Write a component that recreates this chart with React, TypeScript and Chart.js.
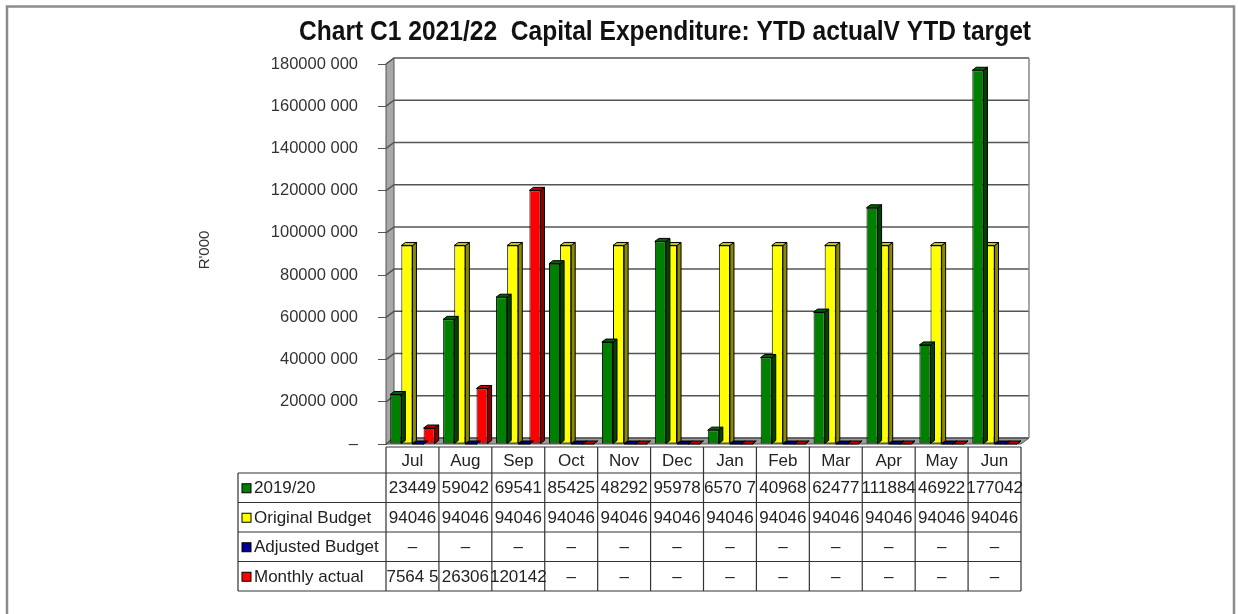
import React, { useEffect, useRef } from "react";
import { Chart, registerables } from "chart.js";

Chart.register(...registerables);

const titleText = "Chart C1 2021/22  Capital Expenditure: YTD actualV YTD target";
const yAxisTitle = "R'000";
const months = ["Jul", "Aug", "Sep", "Oct", "Nov", "Dec", "Jan", "Feb", "Mar", "Apr", "May", "Jun"];
const seriesNames = ["2019/20", "Original Budget", "Adjusted Budget", "Monthly actual"];
const ytd201920 = [23449000, 59042000, 69541000, 85425000, 48292000, 95978000, 6570700, 40968000, 62477000, 111884000, 46922000, 177042000];
const originalBudget = [94046000, 94046000, 94046000, 94046000, 94046000, 94046000, 94046000, 94046000, 94046000, 94046000, 94046000, 94046000];
const adjustedBudget = [0, 0, 0, 0, 0, 0, 0, 0, 0, 0, 0, 0];
const monthlyActual = [7564500, 26306000, 120142000, 0, 0, 0, 0, 0, 0, 0, 0, 0];
const yTickValues = [0, 20000000, 40000000, 60000000, 80000000, 100000000, 120000000, 140000000, 160000000, 180000000];

const frontColors = ["#008000", "#ffff00", "#000090", "#ff0000"];
const sideColors = ["#004400", "#8a8a00", "#000050", "#880000"];
const topColors = ["#006000", "#c8c800", "#000070", "#c00000"];

const WALL_DX = 8;
const WALL_DY = 6;
const BAR_DX = 4;
const BAR_DY = 3;

const fmtTick = (v: number) => (v === 0 ? "–" : `${v / 1000000}000 000`);

const fmtCell = (v: number) => {
  if (!v) return "–";
  const k = v / 1000;
  return Number.isInteger(k) ? String(k) : String(k).replace(".", " ");
};

const customPlugin = {
  id: "custom3d",
  beforeDraw(chart: any) {
    const ctx = chart.ctx;
    ctx.save();
    ctx.fillStyle = "#ffffff";
    ctx.fillRect(0, 0, chart.width, chart.height);
    ctx.strokeStyle = "#8c8c8c";
    ctx.lineWidth = 2.5;
    ctx.beginPath();
    ctx.moveTo(7, 640);
    ctx.lineTo(7, 6.5);
    ctx.lineTo(1234, 6.5);
    ctx.lineTo(1234, 640);
    ctx.stroke();

    ctx.save();
    ctx.fillStyle = "#111";
    ctx.font = "bold 27px 'Liberation Sans'";
    ctx.textAlign = "center";
    ctx.textBaseline = "middle";
    const w = ctx.measureText(titleText).width;
    ctx.translate(665, 33);
    ctx.scale(732 / w, 1);
    ctx.fillText(titleText, 0, 0);
    ctx.restore();

    ctx.translate(205, 250);
    ctx.rotate(-Math.PI / 2);
    ctx.font = "15px 'Liberation Sans'";
    ctx.fillStyle = "#333";
    ctx.textAlign = "center";
    ctx.textBaseline = "middle";
    ctx.fillText(yAxisTitle, 0, 0);
    ctx.restore();
  },
  beforeDatasetsDraw(chart: any) {
    const ctx = chart.ctx;
    const { left: L, right: R, top: T, bottom: B } = chart.chartArea;
    const ys = chart.scales.y;
    ctx.save();
    ctx.fillStyle = "#a8a8a8";
    ctx.strokeStyle = "#555";
    ctx.lineWidth = 1;
    ctx.beginPath();
    ctx.moveTo(L, T);
    ctx.lineTo(L + WALL_DX, T - WALL_DY);
    ctx.lineTo(L + WALL_DX, B - WALL_DY);
    ctx.lineTo(L, B);
    ctx.closePath();
    ctx.fill();
    ctx.stroke();
    ctx.fillStyle = "#9a9a9a";
    ctx.beginPath();
    ctx.moveTo(L, B);
    ctx.lineTo(L + WALL_DX, B - WALL_DY);
    ctx.lineTo(R + WALL_DX, B - WALL_DY);
    ctx.lineTo(R, B);
    ctx.closePath();
    ctx.fill();
    ctx.stroke();
    ctx.strokeStyle = "#555";
    ctx.lineWidth = 1.5;
    yTickValues.forEach((v) => {
      const y = ys.getPixelForValue(v);
      ctx.beginPath();
      ctx.moveTo(L, y);
      ctx.lineTo(L + WALL_DX, y - WALL_DY);
      ctx.lineTo(R + WALL_DX, y - WALL_DY);
      ctx.stroke();
    });
    ctx.strokeStyle = "#888";
    ctx.beginPath();
    ctx.moveTo(R + WALL_DX, T - WALL_DY);
    ctx.lineTo(R + WALL_DX, B - WALL_DY);
    ctx.stroke();
    ctx.restore();
  },
  afterDatasetDraw(chart: any, args: any) {
    const ctx = chart.ctx;
    const idx = args.index;
    const meta = args.meta;
    ctx.save();
    ctx.strokeStyle = "#000";
    ctx.lineWidth = 1;
    meta.data.forEach((el: any) => {
      const { x, y, base, width } = el.getProps(["x", "y", "base", "width"], true);
      const l = x - width / 2;
      const r = x + width / 2;
      ctx.fillStyle = sideColors[idx];
      ctx.beginPath();
      ctx.moveTo(r, y);
      ctx.lineTo(r + BAR_DX, y - BAR_DY);
      ctx.lineTo(r + BAR_DX, base - BAR_DY);
      ctx.lineTo(r, base);
      ctx.closePath();
      ctx.fill();
      ctx.stroke();
      ctx.fillStyle = topColors[idx];
      ctx.beginPath();
      ctx.moveTo(l, y);
      ctx.lineTo(l + BAR_DX, y - BAR_DY);
      ctx.lineTo(r + BAR_DX, y - BAR_DY);
      ctx.lineTo(r, y);
      ctx.closePath();
      ctx.fill();
      ctx.stroke();
    });
    ctx.restore();
  },
  afterDraw(chart: any) {
    const ctx = chart.ctx;
    const { left: L, right: R } = chart.chartArea;
    const xs = chart.scales.x;
    const n = months.length;
    const cw = (R - L) / n;
    const edges = Array.from({ length: n + 1 }, (_, i) => L + i * cw);
    const headTop = 447;
    const rowEdges = [473, 502.5, 532, 561.5, 591];
    const legLeft = 238;
    const seriesData = [ytd201920, originalBudget, adjustedBudget, monthlyActual];

    ctx.save();
    ctx.strokeStyle = "#333";
    ctx.lineWidth = 1.2;
    ctx.beginPath();
    ctx.moveTo(L, headTop);
    ctx.lineTo(R, headTop);
    rowEdges.forEach((y) => {
      ctx.moveTo(legLeft, y);
      ctx.lineTo(R, y);
    });
    edges.forEach((x) => {
      ctx.moveTo(x, headTop);
      ctx.lineTo(x, rowEdges[rowEdges.length - 1]);
    });
    ctx.moveTo(legLeft, rowEdges[0]);
    ctx.lineTo(legLeft, rowEdges[rowEdges.length - 1]);
    ctx.stroke();

    ctx.fillStyle = "#222";
    ctx.font = "17px 'Liberation Sans'";
    ctx.textAlign = "center";
    ctx.textBaseline = "middle";
    months.forEach((m, i) => {
      const cx = xs.getPixelForValue(i);
      ctx.fillText(m, cx, (headTop + rowEdges[0]) / 2 + 1);
    });
    seriesData.forEach((arr, r) => {
      const cy = (rowEdges[r] + rowEdges[r + 1]) / 2 + 1;
      arr.forEach((v, i) => {
        const cx = xs.getPixelForValue(i);
        ctx.fillText(fmtCell(v), cx, cy);
      });
      ctx.fillStyle = frontColors[r];
      ctx.fillRect(242, cy - 5, 9, 9);
      ctx.strokeStyle = "#000";
      ctx.lineWidth = 1;
      ctx.strokeRect(242, cy - 5, 9, 9);
      ctx.fillStyle = "#222";
      ctx.textAlign = "left";
      ctx.fillText(seriesNames[r], 254, cy);
      ctx.textAlign = "center";
    });
    ctx.restore();
  },
};

export default function App() {
  const ref = useRef<HTMLCanvasElement | null>(null);
  useEffect(() => {
    if (!ref.current) return;
    const seriesData = [ytd201920, originalBudget, adjustedBudget, monthlyActual];
    const chart = new Chart(ref.current, {
      type: "bar",
      data: {
        labels: months,
        datasets: seriesData.map((d, i) => ({
          label: seriesNames[i],
          data: d,
          backgroundColor: frontColors[i],
          borderColor: "#000",
          borderWidth: 1,
          borderSkipped: false,
          categoryPercentage: 0.84,
          barPercentage: 1.0,
        })),
      },
      options: {
        animation: false,
        responsive: false,
        maintainAspectRatio: false,
        layout: { padding: { left: 0, right: 217, top: 64, bottom: 170 } },
        plugins: {
          legend: { display: false },
          tooltip: { enabled: false },
          title: { display: false },
        },
        scales: {
          x: { display: false },
          y: {
            min: 0,
            max: 180000000,
            afterFit: (s: any) => {
              s.width = 386;
            },
            afterBuildTicks: (s: any) => {
              s.ticks = yTickValues.map((v) => ({ value: v }));
            },
            ticks: {
              callback: (v: any) => fmtTick(Number(v)),
              color: "#333",
              font: { family: "'Liberation Sans'", size: 16.5 },
              padding: 20,
            },
            grid: { drawOnChartArea: false, drawTicks: true, tickLength: 8, color: "#555" },
            border: { display: true, color: "#555" },
          },
        },
      },
      plugins: [customPlugin],
    } as any);
    return () => chart.destroy();
  }, []);
  return (
    <div style={{ position: "fixed", left: 0, top: 0, width: 1238, height: 614 }}>
      <canvas ref={ref} width={1238} height={614} style={{ display: "block" }} />
    </div>
  );
}
